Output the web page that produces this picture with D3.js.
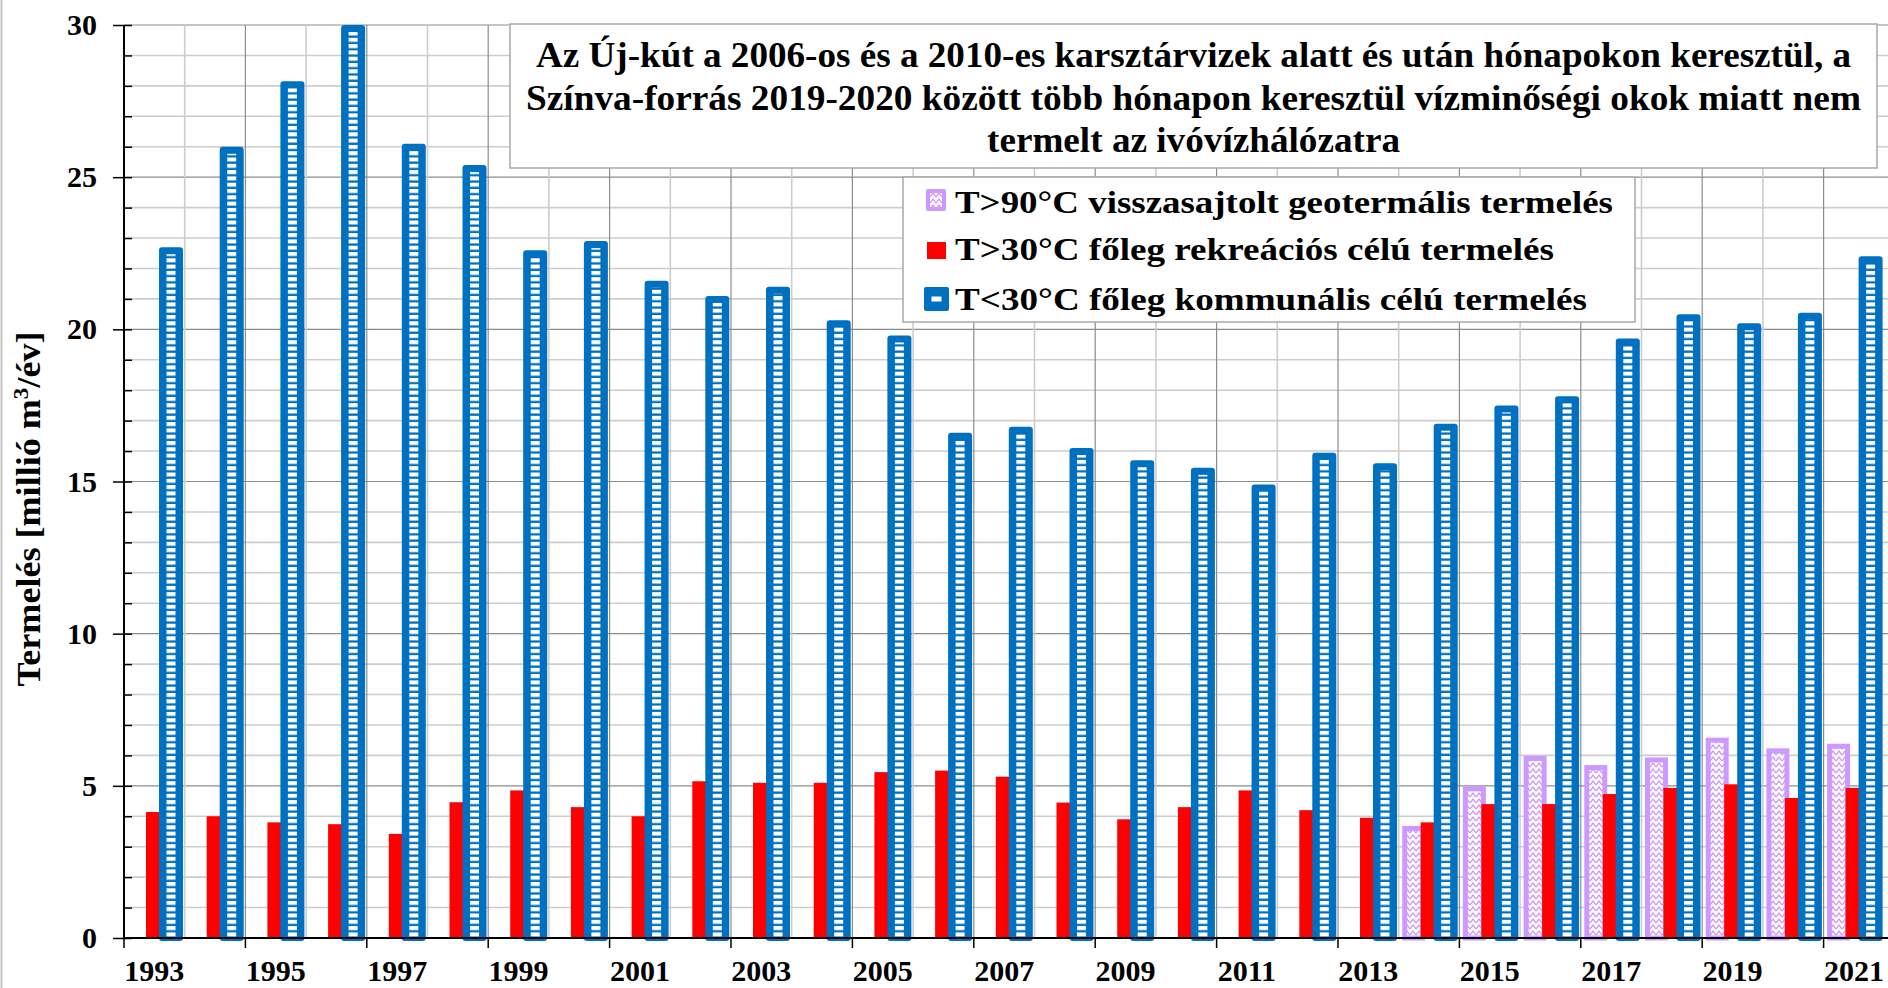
<!DOCTYPE html>
<html>
<head>
<meta charset="utf-8">
<script src="https://cdn.jsdelivr.net/npm/d3@7"></script>
<style>
  body { margin: 0; background: #fff; }
  svg { display: block; }
  text { font-family: "Liberation Serif", "Times New Roman", serif; font-weight: bold; fill: #000; }
</style>
</head>
<body>
<div id="chart"></div>
<script>
// adatok (millió m3/év)
const years = [1993, 1994, 1995, 1996, 1997, 1998, 1999, 2000, 2001, 2002, 2003, 2004, 2005, 2006, 2007,
  2008, 2009, 2010, 2011, 2012, 2013, 2014, 2015, 2016, 2017, 2018, 2019, 2020, 2021];
const communal = [22.6, 25.9, 28.05, 29.9, 26.0, 25.3, 22.5, 22.8, 21.5, 21.0, 21.3, 20.2, 19.7, 16.5, 16.7,
  16.0, 15.6, 15.35, 14.8, 15.85, 15.5, 16.8, 17.4, 17.7, 19.6, 20.4, 20.1, 20.45, 22.3];
const recreation = [4.14, 4.0, 3.8, 3.74, 3.42, 4.46, 4.85, 4.3, 4.0, 5.15, 5.1, 5.1, 5.45, 5.5, 5.3,
  4.45, 3.9, 4.3, 4.85, 4.2, 3.95, 3.8, 4.4, 4.4, 4.73, 4.93, 5.05, 4.6, 4.93];
const geothermal = [null, null, null, null, null, null, null, null, null, null, null, null, null, null, null,
  null, null, null, null, null, null, 3.6, 4.9, 5.9, 5.6, 5.85, 6.5, 6.15, 6.3];
const yTicks = [0, 5, 10, 15, 20, 25, 30];
const yearLabels = [1993, 1995, 1997, 1999, 2001, 2003, 2005, 2007, 2009, 2011, 2013, 2015, 2017, 2019, 2021];
const titleLines = [
  "Az Új-kút  a 2006-os és a 2010-es karsztárvizek alatt és után hónapokon keresztül, a",
  "Színva-forrás 2019-2020 között több hónapon keresztül  vízminőségi okok miatt nem",
  "termelt  az ivóvízhálózatra"
];
const legendLabels = [
  "T>90°C visszasajtolt geotermális termelés",
  "T>30°C főleg rekreációs célú termelés",
  "T<30°C főleg kommunális célú termelés"
];

const W = 1888, H = 988;
const BLUE = "#0070C0", RED = "#FF0000", PURPLE = "#CC99FF";

const svg = d3.select("#chart").append("svg")
  .attr("width", W)
  .attr("height", H);

const x0 = d3.scaleBand().domain(years).range([124, 124 + years.length * 60.7]);
const x1 = d3.scaleBand().domain(["geo", "rec", "com"]).range([6, 54]);
const barW = x1.bandwidth() + 2;
const y = d3.scaleLinear().domain([0, 30]).range([938, 25]);

const rows = years.map((yr, i) => ({ yr, i, com: communal[i], rec: recreation[i], geo: geothermal[i] }));

// mintázatok
const defs = svg.append("defs");
const dash = defs.append("pattern")
  .attr("id", "blueDash")
  .attr("patternUnits", "userSpaceOnUse")
  .attr("width", 10).attr("height", 6.3);
dash.append("rect").attr("width", 10).attr("height", 4).attr("fill", "#fff");

const hatch = defs.append("pattern")
  .attr("id", "geoHatch")
  .attr("patternUnits", "userSpaceOnUse")
  .attr("width", 6).attr("height", 6);
hatch.append("rect").attr("width", 6).attr("height", 6).attr("fill", "#fff");
hatch.append("path")
  .attr("d", "M0,5 L3,1 L6,5")
  .attr("fill", "none")
  .attr("stroke", PURPLE)
  .attr("stroke-width", 1.3);

// diagram keret bal oldalon
svg.append("line")
  .attr("x1", 1.5).attr("x2", 1.5).attr("y1", 0).attr("y2", H)
  .attr("stroke", "#c4c4c4").attr("stroke-width", 2);

// rácsvonalak
const grid = svg.append("g");
grid.selectAll("line.h")
  .data(d3.range(1, 31))
  .join("line")
  .attr("x1", 124).attr("x2", W)
  .attr("y1", d => y(d)).attr("y2", d => y(d))
  .attr("stroke", d => d % 5 === 0 ? "#8c8c8c" : "#cdcdcd")
  .attr("stroke-width", d => d % 5 === 0 ? 1.2 : 1.6);

grid.selectAll("line.v")
  .data(rows.slice(1))
  .join("line")
  .attr("x1", d => x0(d.yr)).attr("x2", d => x0(d.yr))
  .attr("y1", y(30)).attr("y2", y(0))
  .attr("stroke", d => d.i % 2 === 0 ? "#8c8c8c" : "#cdcdcd")
  .attr("stroke-width", d => d.i % 2 === 0 ? 1.2 : 1.6);

// oszlopok
const bars = svg.append("g");
bars.selectAll("rect.geo")
  .data(rows.filter(d => d.geo != null))
  .join("rect")
  .attr("x", d => x0(d.yr) + x1("geo"))
  .attr("y", d => y(d.geo))
  .attr("width", barW)
  .attr("height", d => y(0) - y(d.geo))
  .attr("fill", "url(#geoHatch)")
  .attr("stroke", PURPLE)
  .attr("stroke-width", 5);

bars.selectAll("rect.rec")
  .data(rows)
  .join("rect")
  .attr("x", d => x0(d.yr) + x1("rec"))
  .attr("y", d => y(d.rec))
  .attr("width", barW)
  .attr("height", d => y(0) - y(d.rec))
  .attr("fill", RED);

const com = bars.selectAll("g.com")
  .data(rows)
  .join("g");
com.append("rect")
  .attr("x", d => x0(d.yr) + x1("com"))
  .attr("y", d => y(d.com))
  .attr("width", barW)
  .attr("height", d => y(0) - y(d.com))
  .attr("fill", BLUE)
  .attr("stroke", BLUE)
  .attr("stroke-width", 6)
  .attr("stroke-linejoin", "round");
com.append("rect")
  .attr("x", d => x0(d.yr) + x1("com") + (barW - 9) / 2)
  .attr("y", d => y(d.com) + 4)
  .attr("width", 9)
  .attr("height", d => y(0) - y(d.com) - 4)
  .attr("fill", "url(#blueDash)");

// y tengely
svg.append("g")
  .attr("transform", "translate(124,0)")
  .call(d3.axisLeft(y).tickValues(yTicks).tickSize(11).tickPadding(16).tickFormat(d3.format("d")))
  .call(g => g.select(".domain").remove())
  .call(g => g.selectAll(".tick line").attr("stroke", "#000").attr("stroke-width", 1.5))
  .selectAll("text")
  .style("font-size", "30px")
  .style("font-family", "'Liberation Serif', 'Times New Roman', serif")
  .style("font-weight", "bold");

svg.append("g")
  .attr("transform", "translate(124,0)")
  .call(d3.axisRight(y).tickValues(d3.range(0, 31)).tickSize(8).tickFormat(""))
  .call(g => g.select(".domain").remove())
  .call(g => g.selectAll(".tick line").attr("stroke", "#000").attr("stroke-width", 1.5));

svg.append("line")
  .attr("x1", 124).attr("x2", 124).attr("y1", y(30)).attr("y2", y(0))
  .attr("stroke", "#000").attr("stroke-width", 2);

// x tengely
svg.append("g")
  .attr("transform", `translate(0,${y(0)})`)
  .call(d3.axisBottom(x0).tickValues(yearLabels).tickSize(0).tickPadding(14))
  .call(g => g.select(".domain").remove())
  .selectAll("text")
  .attr("dy", "0.95em")
  .style("font-size", "30px")
  .style("font-family", "'Liberation Serif', 'Times New Roman', serif")
  .style("font-weight", "bold");

svg.append("g").selectAll("line")
  .data(rows.filter(d => d.i % 2 === 0))
  .join("line")
  .attr("x1", d => x0(d.yr)).attr("x2", d => x0(d.yr))
  .attr("y1", y(0)).attr("y2", y(0) + 10)
  .attr("stroke", "#000").attr("stroke-width", 1.5);

svg.append("line")
  .attr("x1", 124).attr("x2", W).attr("y1", y(0)).attr("y2", y(0))
  .attr("stroke", "#000").attr("stroke-width", 2);

// y tengely cím
const yTitle = svg.append("text")
  .attr("transform", "translate(40,509) rotate(-90)")
  .attr("text-anchor", "middle")
  .attr("textLength", 355)
  .attr("lengthAdjust", "spacingAndGlyphs")
  .style("font-size", "33px");
yTitle.append("tspan").text("Termelés [millió m");
yTitle.append("tspan").attr("dy", -12).style("font-size", "21px").text("3");
yTitle.append("tspan").attr("dy", 12).text("/év]");

// cím doboz
svg.append("rect")
  .attr("x", 510).attr("y", 24).attr("width", 1367).attr("height", 144)
  .attr("fill", "#fff").attr("stroke", "#a8a8a8").attr("stroke-width", 1.5);

const titleLens = [1315, 1335, 413];
const titleBase = [67, 110, 152];
svg.append("g").selectAll("text")
  .data(titleLines)
  .join("text")
  .attr("x", 1193.5)
  .attr("y", (d, i) => titleBase[i])
  .attr("text-anchor", "middle")
  .attr("textLength", (d, i) => titleLens[i])
  .attr("lengthAdjust", "spacingAndGlyphs")
  .style("font-size", "36px")
  .text(d => d);

// jelmagyarázat
svg.append("rect")
  .attr("x", 903).attr("y", 177).attr("width", 732).attr("height", 145)
  .attr("fill", "#fff").attr("stroke", "#a8a8a8").attr("stroke-width", 1.5);

const legBase = [213, 260, 310];
const legLens = [658, 599, 632];
const leg = svg.append("g");
leg.append("rect")
  .attr("x", 928).attr("y", 191).attr("width", 16).attr("height", 18)
  .attr("fill", "url(#geoHatch)").attr("stroke", PURPLE).attr("stroke-width", 4)
  .attr("stroke-linejoin", "round");
leg.append("rect")
  .attr("x", 927).attr("y", 242).attr("width", 19).attr("height", 17)
  .attr("fill", RED);
leg.append("rect")
  .attr("x", 926).attr("y", 289).attr("width", 21).attr("height", 20)
  .attr("fill", BLUE).attr("stroke", BLUE).attr("stroke-width", 4)
  .attr("stroke-linejoin", "round");
leg.append("rect")
  .attr("x", 931.5).attr("y", 296.5).attr("width", 10).attr("height", 5)
  .attr("fill", "#fff");

leg.selectAll("text")
  .data(legendLabels)
  .join("text")
  .attr("x", 955)
  .attr("y", (d, i) => legBase[i])
  .attr("textLength", (d, i) => legLens[i])
  .attr("lengthAdjust", "spacingAndGlyphs")
  .style("font-size", "31px")
  .text(d => d);
</script>
</body>
</html>
